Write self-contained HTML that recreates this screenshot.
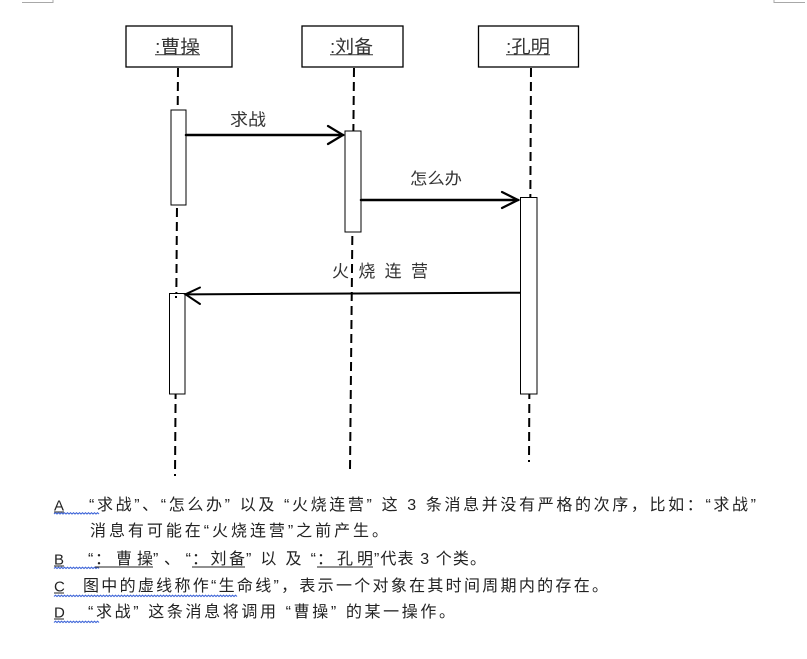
<!DOCTYPE html>
<html>
<head>
<meta charset="utf-8">
<style>
  html,body{margin:0;padding:0;background:#fff;}
  svg{display:block;}
  .cj{font-family:"Liberation Sans","Noto Sans CJK SC",sans-serif;}
</style>
</head>
<body>
<svg width="807" height="659" viewBox="0 0 807 659" xmlns="http://www.w3.org/2000/svg">
  <rect width="807" height="659" fill="#fff"/>

  <!-- page corner marks -->
  <polyline points="22,2.5 53,2.5 53,0" fill="none" stroke="#a8a8a8" stroke-width="1"/>
  <polyline points="774,0 774,2.5 805,2.5" fill="none" stroke="#a8a8a8" stroke-width="1"/>

  <!-- lifelines -->
  <g stroke="#000" stroke-width="2" stroke-dasharray="9 5" fill="none">
    <line x1="178" y1="68" x2="175" y2="476"/>
    <line x1="354" y1="68" x2="350" y2="470"/>
    <line x1="531" y1="68" x2="529" y2="462"/>
  </g>

  <!-- object boxes -->
  <g fill="#fff" stroke="#000" stroke-width="1.3">
    <rect x="126" y="26" width="106" height="41"/>
    <rect x="302" y="26" width="101" height="41"/>
    <rect x="478.5" y="26" width="100" height="41"/>
  </g>
  <g class="cj" font-size="18" fill="#333">
    <text x="155" y="53" textLength="45" lengthAdjust="spacingAndGlyphs">:曹操</text>
    <text x="330" y="53" textLength="43" lengthAdjust="spacingAndGlyphs">:刘备</text>
    <text x="506" y="53" textLength="44" lengthAdjust="spacingAndGlyphs">:孔明</text>
  </g>
  <g stroke="#333" stroke-width="1">
    <line x1="155" y1="54.8" x2="200" y2="54.8"/>
    <line x1="330" y1="54.8" x2="373" y2="54.8"/>
    <line x1="506" y1="54.8" x2="550" y2="54.8"/>
  </g>

  <!-- activations -->
  <g fill="#fff" stroke="#000" stroke-width="1">
    <rect x="171" y="110" width="15" height="95"/>
    <rect x="345" y="131" width="16" height="101"/>
    <rect x="520.5" y="197.5" width="16.5" height="196.5"/>
    <rect x="169.5" y="293.5" width="15.5" height="100.5"/>
  </g>
  <rect x="175" y="296" width="2" height="2" fill="#000"/>

  <!-- messages -->
  <g stroke="#000" fill="none" stroke-linecap="round" stroke-linejoin="miter">
    <line x1="186" y1="135" x2="343" y2="135" stroke-width="2.5"/>
    <polyline points="328,126 343,135 328,144" stroke-width="2.2"/>
    <line x1="361" y1="200" x2="518" y2="200" stroke-width="2.5"/>
    <polyline points="502,192 518,200 502,208" stroke-width="2.2"/>
    <line x1="520" y1="292.7" x2="186" y2="294.4" stroke-width="2"/>
    <polyline points="200,287.5 185.5,294.3 200,304" stroke-width="2"/>
  </g>
  <g class="cj" fill="#333">
    <text x="230" y="125.5" font-size="17" textLength="36" lengthAdjust="spacingAndGlyphs">求战</text>
    <text x="410" y="184" font-size="16" textLength="52" lengthAdjust="spacingAndGlyphs">怎么办</text>
    <text x="332" y="277" font-size="17" textLength="96" lengthAdjust="spacing">火烧连营</text>
  </g>

  <!-- answer options -->
  <g font-family="Liberation Sans, sans-serif" font-size="15" fill="#222">
    <text x="54" y="510.5">A</text>
    <text x="54" y="564.5">B</text>
    <text x="54" y="591.5">C</text>
    <text x="54" y="617.5">D</text>
  </g>
  <g stroke="#222" stroke-width="1">
    <line x1="54" y1="512" x2="64" y2="512"/>
    <line x1="54" y1="566" x2="64" y2="566"/>
    <line x1="54" y1="593" x2="64" y2="593"/>
    <line x1="54" y1="619" x2="64" y2="619"/>
  </g>

  <!-- wavy spelling underlines -->
  <g fill="none" stroke="#3f66d8" stroke-width="1.1">
    <path d="M54 514 l1.5 -1.3 l1.5 1.3 l1.5 -1.3 l1.5 1.3 l1.5 -1.3 l1.5 1.3 l1.5 -1.3 l1.5 1.3 l1.5 -1.3 l1.5 1.3 l1.5 -1.3 l1.5 1.3 l1.5 -1.3 l1.5 1.3 l1.5 -1.3 l1.5 1.3 l1.5 -1.3 l1.5 1.3 l1.5 -1.3 l1.5 1.3 l1.5 -1.3 l1.5 1.3 l1.5 -1.3 l1.5 1.3 l1.5 -1.3 l1.5 1.3 l1.5 -1.3 l1.5 1.3 l1.5 -1.3 l1.5 1.3"/>
    <path d="M54 568.5 l1.5 -1.3 l1.5 1.3 l1.5 -1.3 l1.5 1.3 l1.5 -1.3 l1.5 1.3 l1.5 -1.3 l1.5 1.3 l1.5 -1.3 l1.5 1.3 l1.5 -1.3 l1.5 1.3 l1.5 -1.3 l1.5 1.3 l1.5 -1.3 l1.5 1.3 l1.5 -1.3 l1.5 1.3 l1.5 -1.3 l1.5 1.3 l1.5 -1.3 l1.5 1.3 l1.5 -1.3 l1.5 1.3 l1.5 -1.3 l1.5 1.3 l1.5 -1.3 l1.5 1.3 l1.5 -1.3 l1.5 1.3"/>
    <path d="M54 622.5 l1.5 -1.3 l1.5 1.3 l1.5 -1.3 l1.5 1.3 l1.5 -1.3 l1.5 1.3 l1.5 -1.3 l1.5 1.3 l1.5 -1.3 l1.5 1.3 l1.5 -1.3 l1.5 1.3 l1.5 -1.3 l1.5 1.3 l1.5 -1.3 l1.5 1.3 l1.5 -1.3 l1.5 1.3 l1.5 -1.3 l1.5 1.3 l1.5 -1.3 l1.5 1.3 l1.5 -1.3 l1.5 1.3 l1.5 -1.3 l1.5 1.3 l1.5 -1.3 l1.5 1.3 l1.5 -1.3 l1.5 1.3"/>
    <path d="M54 596.5 l1.5 -1.3 l1.5 1.3 l1.5 -1.3 l1.5 1.3 l1.5 -1.3 l1.5 1.3 l1.5 -1.3 l1.5 1.3 l1.5 -1.3 l1.5 1.3 l1.5 -1.3 l1.5 1.3 l1.5 -1.3 l1.5 1.3 l1.5 -1.3 l1.5 1.3 l1.5 -1.3 l1.5 1.3 l1.5 -1.3 l1.5 1.3 l1.5 -1.3 l1.5 1.3 l1.5 -1.3 l1.5 1.3 l1.5 -1.3 l1.5 1.3 l1.5 -1.3 l1.5 1.3 l1.5 -1.3 l1.5 1.3 l1.5 -1.3 l1.5 1.3 l1.5 -1.3 l1.5 1.3 l1.5 -1.3 l1.5 1.3 l1.5 -1.3 l1.5 1.3 l1.5 -1.3 l1.5 1.3 l1.5 -1.3 l1.5 1.3 l1.5 -1.3 l1.5 1.3 l1.5 -1.3 l1.5 1.3 l1.5 -1.3 l1.5 1.3 l1.5 -1.3 l1.5 1.3 l1.5 -1.3 l1.5 1.3 l1.5 -1.3 l1.5 1.3 l1.5 -1.3 l1.5 1.3 l1.5 -1.3 l1.5 1.3 l1.5 -1.3 l1.5 1.3 l1.5 -1.3 l1.5 1.3 l1.5 -1.3 l1.5 1.3 l1.5 -1.3 l1.5 1.3 l1.5 -1.3 l1.5 1.3 l1.5 -1.3 l1.5 1.3 l1.5 -1.3 l1.5 1.3 l1.5 -1.3 l1.5 1.3 l1.5 -1.3 l1.5 1.3 l1.5 -1.3 l1.5 1.3 l1.5 -1.3 l1.5 1.3 l1.5 -1.3 l1.5 1.3 l1.5 -1.3 l1.5 1.3 l1.5 -1.3 l1.5 1.3 l1.5 -1.3 l1.5 1.3 l1.5 -1.3 l1.5 1.3 l1.5 -1.3 l1.5 1.3 l1.5 -1.3 l1.5 1.3 l1.5 -1.3 l1.5 1.3 l1.5 -1.3 l1.5 1.3 l1.5 -1.3 l1.5 1.3 l1.5 -1.3 l1.5 1.3 l1.5 -1.3 l1.5 1.3 l1.5 -1.3 l1.5 1.3 l1.5 -1.3 l1.5 1.3 l1.5 -1.3 l1.5 1.3 l1.5 -1.3 l1.5 1.3 l1.5 -1.3 l1.5 1.3 l1.5 -1.3 l1.5 1.3 l1.5 -1.3 l1.5 1.3 l1.5 -1.3 l1.5 1.3 l1.5 -1.3 l1.5 1.3"/>
  </g>

  <g class="cj" font-size="16" fill="#222">
    <!-- A -->
    <text x="89" y="510" textLength="667" lengthAdjust="spacing">“求战”、“怎么办” 以及 “火烧连营” 这 3 条消息并没有严格的次序，比如：“求战”</text>
    <text x="90" y="536" textLength="298" lengthAdjust="spacing">消息有可能在“火烧连营”之前产生。</text>
    <!-- B -->
    <text x="88" y="564">“</text>
    <text x="95" y="564" textLength="58" lengthAdjust="spacing">：曹操</text>
    <text x="153" y="564" textLength="38" lengthAdjust="spacing">”、“</text>
    <text x="192" y="564" textLength="53" lengthAdjust="spacing">：刘备</text>
    <text x="246" y="564" textLength="70" lengthAdjust="spacing">”以及“</text>
    <text x="317" y="564" textLength="56" lengthAdjust="spacing">：孔明</text>
    <text x="374" y="564" textLength="112" lengthAdjust="spacing">”代表 3 个类。</text>
    <!-- C -->
    <text x="83" y="591" textLength="525" lengthAdjust="spacing">图中的虚线称作“生命线”，表示一个对象在其时间周期内的存在。</text>
    <!-- D -->
    <text x="88" y="617" textLength="367" lengthAdjust="spacing">“求战” 这条消息将调用 “曹操” 的某一操作。</text>
  </g>
  <g stroke="#222" stroke-width="1">
    <line x1="95" y1="567" x2="153" y2="567"/>
    <line x1="192" y1="567" x2="245" y2="567"/>
    <line x1="317" y1="567" x2="373" y2="567"/>
  </g>
</svg>
</body>
</html>
